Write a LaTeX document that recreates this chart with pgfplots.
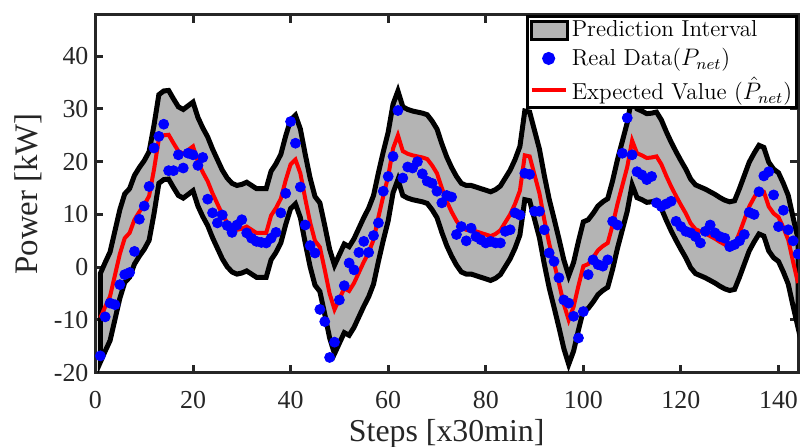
\documentclass[border=0pt]{standalone}
\usepackage{fontspec}
\usepackage{pgfplots}
\usepackage{pgfplotstable}
\pgfplotsset{compat=1.18}
\usepgfplotslibrary{fillbetween}
\newfontfamily\timesfont{Liberation Serif}
\definecolor{band}{RGB}{180,180,180}
\definecolor{axgray}{RGB}{38,38,38}

% step, lower bound, expected value, upper bound, measured power
\pgfplotstableread{
x lo mu hi real
1 -18.0 -9.6 -1.2 -16.8
2 -15.9 -7.5 0.9 -9.4
3 -13.9 -5.5 2.9 -6.8
4 -9.9 -1.5 6.9 -7.1
5 -5.9 2.5 10.9 -3.3
6 -2.9 5.5 13.9 -1.4
7 -1.9 6.5 14.9 -1.0
8 0.6 9.0 17.4 3.0
9 2.1 10.5 18.9 9.1
10 3.4 11.8 20.2 11.6
11 5.1 13.5 21.9 15.3
12 10.1 18.5 26.9 22.6
13 15.9 24.3 32.7 24.8
14 16.6 25.0 33.4 27.1
15 16.7 25.1 33.5 18.3
16 15.1 23.5 31.9 18.3
17 13.6 22.0 30.4 21.3
18 13.1 21.5 29.9 18.8
19 13.8 22.2 30.6 21.6
20 14.5 22.9 31.3 21.3
21 11.6 20.0 28.4 19.3
22 9.6 18.0 26.4 20.8
23 7.9 16.3 24.7 12.9
24 5.6 14.0 22.4 10.3
25 3.6 12.0 20.4 8.4
26 1.6 10.0 18.4 9.9
27 0.1 8.5 16.9 7.9
28 -0.9 7.5 15.9 6.6
29 -1.3 7.1 15.5 8.0
30 -1.1 7.3 15.7 9.0
31 -0.7 7.7 16.1 6.5
32 -1.3 7.1 15.5 5.5
33 -1.9 6.5 14.9 4.9
34 -1.9 6.5 14.9 4.7
35 -1.9 6.5 14.9 4.6
36 1.4 9.8 18.2 5.5
37 2.8 11.2 19.6 6.6
38 4.6 13.0 21.4 10.3
39 8.1 16.5 24.9 14.0
40 11.1 19.5 27.9 27.6
41 12.0 20.4 28.8 23.5
42 9.4 17.8 26.2 15.2
43 4.6 13.0 21.4 8.0
44 0.1 8.5 16.9 4.1
45 -3.4 5.0 13.4 2.7
46 -4.6 3.8 12.2 -8.0
47 -8.9 -0.5 7.9 -10.3
48 -13.4 -5.0 3.4 -17.1
49 -16.4 -8.0 0.4 -14.2
50 -14.4 -6.0 2.4 -6.2
51 -12.4 -4.0 4.4 -3.5
52 -12.9 -4.5 3.9 0.8
53 -11.4 -3.0 5.4 -0.5
54 -9.4 -1.0 7.4 2.8
55 -7.4 1.0 9.4 4.9
56 -5.6 2.8 11.2 2.8
57 -3.2 5.2 13.6 6.0
58 1.1 9.5 17.9 8.4
59 5.1 13.5 21.9 14.4
60 8.8 17.2 25.6 17.2
61 14.1 22.5 30.9 21.0
62 16.6 25.0 33.4 29.7
63 13.6 22.0 30.4 16.9
64 13.1 21.5 29.9 19.0
65 12.8 21.2 29.6 18.8
66 12.6 21.0 29.4 20.0
67 12.4 20.8 29.2 17.7
68 12.1 20.5 28.9 16.3
69 10.9 19.3 27.7 15.9
70 9.4 17.8 26.2 14.4
71 6.6 15.0 23.4 12.2
72 4.1 12.5 20.9 13.6
73 2.1 10.5 18.9 13.3
74 0.4 8.8 17.2 6.2
75 -0.9 7.5 15.9 7.7
76 -1.3 7.1 15.5 5.0
77 -1.3 7.1 15.5 7.4
78 -1.6 6.8 15.2 5.8
79 -1.9 6.5 14.9 5.2
80 -2.2 6.2 14.6 4.6
81 -2.5 5.9 14.3 4.9
82 -2.1 6.3 14.7 4.6
83 -1.4 7.0 15.4 4.6
84 0.1 8.5 16.9 6.8
85 1.6 10.0 18.4 7.1
86 3.6 12.0 20.4 10.3
87 6.1 14.5 22.9 9.9
88 12.8 21.2 29.6 17.8
89 12.6 21.0 29.4 17.6
90 9.1 17.5 25.9 10.6
91 5.6 14.0 22.4 10.6
92 0.6 9.0 17.4 7.1
93 -3.9 4.5 12.9 2.7
94 -7.6 0.8 9.2 1.1
95 -11.4 -3.0 5.4 -2.0
96 -15.4 -7.0 1.4 -6.2
97 -18.4 -10.0 -1.6 -6.8
98 -15.9 -7.5 0.9 -9.3
99 -11.9 -3.5 4.9 -13.4
100 -8.2 0.2 8.6 -8.4
101 -7.8 0.6 9.0 -1.4
102 -6.6 1.8 10.2 1.4
103 -5.2 3.2 11.6 0.5
104 -4.4 4.0 12.4 0.2
105 -3.8 4.6 13.0 1.4
106 -0.4 8.0 16.4 8.7
107 3.6 12.0 20.4 8.0
108 7.1 15.5 23.9 21.6
109 10.6 19.0 27.4 28.3
110 15.6 24.0 32.4 21.3
111 13.2 21.6 30.0 18.1
112 12.8 21.2 29.6 17.5
113 12.3 20.7 29.1 16.6
114 12.4 20.8 29.2 17.2
115 12.6 21.0 29.4 12.2
116 11.1 19.5 27.9 11.5
117 8.9 17.3 25.7 12.0
118 6.9 15.3 23.7 12.5
119 5.1 13.5 21.9 8.7
120 3.4 11.8 20.2 7.7
121 1.8 10.2 18.6 6.8
122 -0.1 8.3 16.7 6.5
123 -1.2 7.2 15.6 5.8
124 -1.6 6.8 15.2 4.6
125 -2.0 6.4 14.8 6.8
126 -2.5 5.9 14.3 8.0
127 -3.0 5.4 13.8 6.5
128 -3.6 4.8 13.2 5.8
129 -4.1 4.3 12.7 5.5
130 -4.4 4.0 12.4 3.9
131 -4.2 4.2 12.6 4.3
132 -1.9 6.5 14.9 5.0
133 0.6 9.0 17.4 6.2
134 3.1 11.5 19.9 10.4
135 4.8 13.2 21.6 10.0
136 6.3 14.7 23.1 14.3
137 5.9 14.3 22.7 17.3
138 3.1 11.5 19.9 18.1
139 1.8 10.2 18.6 13.7
140 1.1 9.5 17.9 7.7
141 -0.9 7.5 15.9 10.8
142 -3.2 5.2 13.6 7.1
143 -7.4 1.0 9.4 5.0
144 -11.4 -3.0 5.4 2.5
}\data

\begin{document}
\begin{tikzpicture}
\begin{axis}[
    scale only axis,
    width=351.5bp, height=179bp,
    xmin=0, xmax=144, ymin=-20, ymax=47.8,
    xtick={0,20,...,140}, ytick={-20,-10,...,40},
    tick align=inside, major tick length=4bp,
    axis line style={axgray, line width=1.5bp},
    every tick/.style={axgray, line width=1.5bp},
    /pgf/number format/assume math mode=true,
    ticklabel style={font=\timesfont\fontsize{13}{15}\selectfont, text=axgray},
    xticklabel style={anchor=base, yshift=-18bp},
    xlabel={Steps [x30min]}, ylabel={Power [kW]},
    every axis x label/.style={at={(axis description cs:0.5,-0.193)}, anchor=base,
        font=\timesfont\fontsize{16}{19}\selectfont, text=axgray},
    every axis y label/.style={at={(axis description cs:-0.096,0.5)}, anchor=center, rotate=90,
        font=\timesfont\fontsize{16.5}{19}\selectfont, text=axgray},
    legend style={at={(1,1)}, anchor=north east, draw=black, line width=1.5bp,
        font=\fontsize{11.6}{13.9}\selectfont, inner sep=1bp, row sep=1.8bp,
        nodes={inner sep=1.2bp}},
    legend cell align=left,
]
\addplot[draw=none, name path=hi, forget plot] table[x=x, y=hi] {\data};
\addplot[draw=none, name path=lo, forget plot] table[x=x, y=lo] {\data};
\addplot[fill=band, draw=black, line width=2.5bp,
    legend image code/.code={\draw[fill=band, draw=black, line width=1.8bp] (0bp,-4.5bp) rectangle (18bp,4.5bp);}]
    fill between[of=hi and lo];
\addlegendentry{Prediction Interval}
\addplot[only marks, mark=*, mark size=2.5bp, blue, mark options={draw=blue, fill=blue}]
    table[x=x, y=real] {\data};
\addlegendentry{Real Data($P_{net}$)}
\addplot[red, line width=2bp, no marks] table[x=x, y=mu] {\data};
\addlegendentry{Expected Value ($\hat{P}_{net}$)}
\end{axis}
\pgfresetboundingbox
\path[use as bounding box] ([shift={(-47.75bp,-37bp)}]current axis.south west)
    rectangle ([shift={(1bp,7.5bp)}]current axis.north east);
\end{tikzpicture}
\end{document}
